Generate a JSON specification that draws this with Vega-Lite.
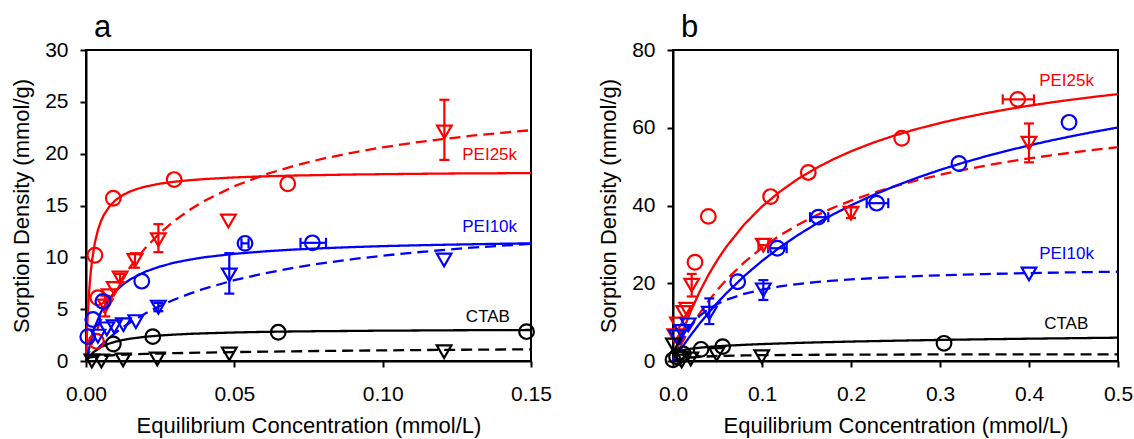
{
"$schema":"https://vega.github.io/schema/vega-lite/v6.json",
"autosize":{"type":"none"},
"padding":{"left":86,"top":50,"right":1048,"bottom":389},
"background":"white",
"spacing":142,
"bounds":"flush",
"config":{
 "font":"Liberation Sans",
 "view":{"stroke":"black","strokeWidth":2},
 "axis":{"grid":false,"domainColor":"black","domainWidth":2,"tickColor":"black","tickWidth":2,"tickSize":6,"labelFont":"Liberation Sans","labelFontSize":21,"labelColor":"black","titleFont":"Liberation Sans","titleFontSize":22,"titleFontWeight":"normal","titleColor":"black","labelFlush":false,"labelOverlap":false,"titleLimit":1000},
 "axisX":{"labelPadding":16,"titlePadding":11},
 "axisY":{"labelPadding":12,"titlePadding":11},
 "point":{"filled":false,"strokeWidth":2.2,"size":215,"opacity":1},
 "title":{"anchor":"start","fontSize":31,"fontWeight":"normal","font":"Liberation Sans","color":"black","dx":8,"frame":"group","baseline":"alphabetic","offset":-5}
},
"datasets":{
"curves":[
{"p":"a","s":"PEI25k","f":"solid","C":0,"q":0},{"p":"a","s":"PEI25k","f":"solid","C":0.0005,"q":3.96},{"p":"a","s":"PEI25k","f":"solid","C":0.001,"q":6.51},{"p":"a","s":"PEI25k","f":"solid","C":0.0015,"q":8.29},{"p":"a","s":"PEI25k","f":"solid","C":0.002,"q":9.61},{"p":"a","s":"PEI25k","f":"solid","C":0.003,"q":11.43},{"p":"a","s":"PEI25k","f":"solid","C":0.004,"q":12.62},{"p":"a","s":"PEI25k","f":"solid","C":0.005,"q":13.46},{"p":"a","s":"PEI25k","f":"solid","C":0.006,"q":14.08},{"p":"a","s":"PEI25k","f":"solid","C":0.008,"q":14.95},{"p":"a","s":"PEI25k","f":"solid","C":0.01,"q":15.53},{"p":"a","s":"PEI25k","f":"solid","C":0.0125,"q":16.02},{"p":"a","s":"PEI25k","f":"solid","C":0.015,"q":16.37},{"p":"a","s":"PEI25k","f":"solid","C":0.0175,"q":16.62},{"p":"a","s":"PEI25k","f":"solid","C":0.02,"q":16.82},{"p":"a","s":"PEI25k","f":"solid","C":0.025,"q":17.11},{"p":"a","s":"PEI25k","f":"solid","C":0.03,"q":17.30},{"p":"a","s":"PEI25k","f":"solid","C":0.035,"q":17.44},{"p":"a","s":"PEI25k","f":"solid","C":0.04,"q":17.55},{"p":"a","s":"PEI25k","f":"solid","C":0.05,"q":17.71},{"p":"a","s":"PEI25k","f":"solid","C":0.06,"q":17.81},{"p":"a","s":"PEI25k","f":"solid","C":0.07,"q":17.89},{"p":"a","s":"PEI25k","f":"solid","C":0.08,"q":17.94},{"p":"a","s":"PEI25k","f":"solid","C":0.09,"q":17.99},{"p":"a","s":"PEI25k","f":"solid","C":0.1,"q":18.02},{"p":"a","s":"PEI25k","f":"solid","C":0.11,"q":18.05},{"p":"a","s":"PEI25k","f":"solid","C":0.12,"q":18.08},{"p":"a","s":"PEI25k","f":"solid","C":0.13,"q":18.10},{"p":"a","s":"PEI25k","f":"solid","C":0.14,"q":18.11},{"p":"a","s":"PEI25k","f":"solid","C":0.15,"q":18.13},
{"p":"a","s":"PEI25k","f":"dashed","C":0,"q":0},{"p":"a","s":"PEI25k","f":"dashed","C":0.0025,"q":2.13},{"p":"a","s":"PEI25k","f":"dashed","C":0.005,"q":3.95},{"p":"a","s":"PEI25k","f":"dashed","C":0.0075,"q":5.51},{"p":"a","s":"PEI25k","f":"dashed","C":0.01,"q":6.87},{"p":"a","s":"PEI25k","f":"dashed","C":0.0125,"q":8.07},{"p":"a","s":"PEI25k","f":"dashed","C":0.015,"q":9.12},{"p":"a","s":"PEI25k","f":"dashed","C":0.02,"q":10.91},{"p":"a","s":"PEI25k","f":"dashed","C":0.025,"q":12.37},{"p":"a","s":"PEI25k","f":"dashed","C":0.03,"q":13.57},{"p":"a","s":"PEI25k","f":"dashed","C":0.035,"q":14.59},{"p":"a","s":"PEI25k","f":"dashed","C":0.04,"q":15.46},{"p":"a","s":"PEI25k","f":"dashed","C":0.05,"q":16.86},{"p":"a","s":"PEI25k","f":"dashed","C":0.06,"q":17.95},{"p":"a","s":"PEI25k","f":"dashed","C":0.07,"q":18.82},{"p":"a","s":"PEI25k","f":"dashed","C":0.08,"q":19.53},{"p":"a","s":"PEI25k","f":"dashed","C":0.09,"q":20.11},{"p":"a","s":"PEI25k","f":"dashed","C":0.1,"q":20.61},{"p":"a","s":"PEI25k","f":"dashed","C":0.11,"q":21.04},{"p":"a","s":"PEI25k","f":"dashed","C":0.12,"q":21.40},{"p":"a","s":"PEI25k","f":"dashed","C":0.13,"q":21.73},{"p":"a","s":"PEI25k","f":"dashed","C":0.14,"q":22.01},{"p":"a","s":"PEI25k","f":"dashed","C":0.15,"q":22.26},
{"p":"a","s":"PEI10k","f":"solid","C":0,"q":0},{"p":"a","s":"PEI10k","f":"solid","C":0.0025,"q":2.93},{"p":"a","s":"PEI10k","f":"solid","C":0.005,"q":4.70},{"p":"a","s":"PEI10k","f":"solid","C":0.0075,"q":5.89},{"p":"a","s":"PEI10k","f":"solid","C":0.01,"q":6.74},{"p":"a","s":"PEI10k","f":"solid","C":0.0125,"q":7.39},{"p":"a","s":"PEI10k","f":"solid","C":0.015,"q":7.89},{"p":"a","s":"PEI10k","f":"solid","C":0.02,"q":8.62},{"p":"a","s":"PEI10k","f":"solid","C":0.025,"q":9.12},{"p":"a","s":"PEI10k","f":"solid","C":0.03,"q":9.50},{"p":"a","s":"PEI10k","f":"solid","C":0.035,"q":9.78},{"p":"a","s":"PEI10k","f":"solid","C":0.04,"q":10.01},{"p":"a","s":"PEI10k","f":"solid","C":0.05,"q":10.34},{"p":"a","s":"PEI10k","f":"solid","C":0.06,"q":10.57},{"p":"a","s":"PEI10k","f":"solid","C":0.07,"q":10.75},{"p":"a","s":"PEI10k","f":"solid","C":0.08,"q":10.88},{"p":"a","s":"PEI10k","f":"solid","C":0.09,"q":10.99},{"p":"a","s":"PEI10k","f":"solid","C":0.1,"q":11.08},{"p":"a","s":"PEI10k","f":"solid","C":0.11,"q":11.15},{"p":"a","s":"PEI10k","f":"solid","C":0.12,"q":11.21},{"p":"a","s":"PEI10k","f":"solid","C":0.13,"q":11.26},{"p":"a","s":"PEI10k","f":"solid","C":0.14,"q":11.31},{"p":"a","s":"PEI10k","f":"solid","C":0.15,"q":11.35},
{"p":"a","s":"PEI10k","f":"dashed","C":0,"q":0},{"p":"a","s":"PEI10k","f":"dashed","C":0.0025,"q":0.79},{"p":"a","s":"PEI10k","f":"dashed","C":0.005,"q":1.50},{"p":"a","s":"PEI10k","f":"dashed","C":0.0075,"q":2.15},{"p":"a","s":"PEI10k","f":"dashed","C":0.01,"q":2.73},{"p":"a","s":"PEI10k","f":"dashed","C":0.0125,"q":3.26},{"p":"a","s":"PEI10k","f":"dashed","C":0.015,"q":3.74},{"p":"a","s":"PEI10k","f":"dashed","C":0.02,"q":4.59},{"p":"a","s":"PEI10k","f":"dashed","C":0.025,"q":5.32},{"p":"a","s":"PEI10k","f":"dashed","C":0.03,"q":5.95},{"p":"a","s":"PEI10k","f":"dashed","C":0.035,"q":6.50},{"p":"a","s":"PEI10k","f":"dashed","C":0.04,"q":6.99},{"p":"a","s":"PEI10k","f":"dashed","C":0.05,"q":7.80},{"p":"a","s":"PEI10k","f":"dashed","C":0.06,"q":8.45},{"p":"a","s":"PEI10k","f":"dashed","C":0.07,"q":8.99},{"p":"a","s":"PEI10k","f":"dashed","C":0.08,"q":9.45},{"p":"a","s":"PEI10k","f":"dashed","C":0.09,"q":9.83},{"p":"a","s":"PEI10k","f":"dashed","C":0.1,"q":10.16},{"p":"a","s":"PEI10k","f":"dashed","C":0.11,"q":10.45},{"p":"a","s":"PEI10k","f":"dashed","C":0.12,"q":10.70},{"p":"a","s":"PEI10k","f":"dashed","C":0.13,"q":10.93},{"p":"a","s":"PEI10k","f":"dashed","C":0.14,"q":11.12},{"p":"a","s":"PEI10k","f":"dashed","C":0.15,"q":11.30},
{"p":"a","s":"CTAB","f":"solid","C":0,"q":0},{"p":"a","s":"CTAB","f":"solid","C":0.0025,"q":0.85},{"p":"a","s":"CTAB","f":"solid","C":0.005,"q":1.34},{"p":"a","s":"CTAB","f":"solid","C":0.0075,"q":1.65},{"p":"a","s":"CTAB","f":"solid","C":0.01,"q":1.87},{"p":"a","s":"CTAB","f":"solid","C":0.0125,"q":2.03},{"p":"a","s":"CTAB","f":"solid","C":0.015,"q":2.16},{"p":"a","s":"CTAB","f":"solid","C":0.02,"q":2.34},{"p":"a","s":"CTAB","f":"solid","C":0.025,"q":2.46},{"p":"a","s":"CTAB","f":"solid","C":0.03,"q":2.55},{"p":"a","s":"CTAB","f":"solid","C":0.035,"q":2.62},{"p":"a","s":"CTAB","f":"solid","C":0.04,"q":2.67},{"p":"a","s":"CTAB","f":"solid","C":0.05,"q":2.75},{"p":"a","s":"CTAB","f":"solid","C":0.06,"q":2.81},{"p":"a","s":"CTAB","f":"solid","C":0.07,"q":2.85},{"p":"a","s":"CTAB","f":"solid","C":0.08,"q":2.88},{"p":"a","s":"CTAB","f":"solid","C":0.09,"q":2.90},{"p":"a","s":"CTAB","f":"solid","C":0.1,"q":2.93},{"p":"a","s":"CTAB","f":"solid","C":0.11,"q":2.94},{"p":"a","s":"CTAB","f":"solid","C":0.12,"q":2.96},{"p":"a","s":"CTAB","f":"solid","C":0.13,"q":2.97},{"p":"a","s":"CTAB","f":"solid","C":0.14,"q":2.98},{"p":"a","s":"CTAB","f":"solid","C":0.15,"q":2.99},
{"p":"a","s":"CTAB","f":"dashed","C":0.0005,"q":0.27},{"p":"a","s":"CTAB","f":"dashed","C":0.001,"q":0.32},{"p":"a","s":"CTAB","f":"dashed","C":0.0025,"q":0.41},{"p":"a","s":"CTAB","f":"dashed","C":0.005,"q":0.48},{"p":"a","s":"CTAB","f":"dashed","C":0.0075,"q":0.53},{"p":"a","s":"CTAB","f":"dashed","C":0.01,"q":0.57},{"p":"a","s":"CTAB","f":"dashed","C":0.015,"q":0.64},{"p":"a","s":"CTAB","f":"dashed","C":0.02,"q":0.68},{"p":"a","s":"CTAB","f":"dashed","C":0.025,"q":0.72},{"p":"a","s":"CTAB","f":"dashed","C":0.03,"q":0.76},{"p":"a","s":"CTAB","f":"dashed","C":0.04,"q":0.81},{"p":"a","s":"CTAB","f":"dashed","C":0.05,"q":0.86},{"p":"a","s":"CTAB","f":"dashed","C":0.06,"q":0.90},{"p":"a","s":"CTAB","f":"dashed","C":0.07,"q":0.93},{"p":"a","s":"CTAB","f":"dashed","C":0.08,"q":0.97},{"p":"a","s":"CTAB","f":"dashed","C":0.09,"q":1.00},{"p":"a","s":"CTAB","f":"dashed","C":0.1,"q":1.02},{"p":"a","s":"CTAB","f":"dashed","C":0.11,"q":1.05},{"p":"a","s":"CTAB","f":"dashed","C":0.12,"q":1.07},{"p":"a","s":"CTAB","f":"dashed","C":0.13,"q":1.09},{"p":"a","s":"CTAB","f":"dashed","C":0.14,"q":1.11},{"p":"a","s":"CTAB","f":"dashed","C":0.15,"q":1.13},
{"p":"b","s":"PEI25k","f":"solid","C":0,"q":0},{"p":"b","s":"PEI25k","f":"solid","C":0.005,"q":3.61},{"p":"b","s":"PEI25k","f":"solid","C":0.01,"q":6.93},{"p":"b","s":"PEI25k","f":"solid","C":0.015,"q":9.98},{"p":"b","s":"PEI25k","f":"solid","C":0.02,"q":12.80},{"p":"b","s":"PEI25k","f":"solid","C":0.03,"q":17.84},{"p":"b","s":"PEI25k","f":"solid","C":0.04,"q":22.21},{"p":"b","s":"PEI25k","f":"solid","C":0.05,"q":26.04},{"p":"b","s":"PEI25k","f":"solid","C":0.06,"q":29.42},{"p":"b","s":"PEI25k","f":"solid","C":0.08,"q":35.12},{"p":"b","s":"PEI25k","f":"solid","C":0.1,"q":39.74},{"p":"b","s":"PEI25k","f":"solid","C":0.12,"q":43.56},{"p":"b","s":"PEI25k","f":"solid","C":0.14,"q":46.78},{"p":"b","s":"PEI25k","f":"solid","C":0.16,"q":49.52},{"p":"b","s":"PEI25k","f":"solid","C":0.18,"q":51.88},{"p":"b","s":"PEI25k","f":"solid","C":0.2,"q":53.94},{"p":"b","s":"PEI25k","f":"solid","C":0.225,"q":56.17},{"p":"b","s":"PEI25k","f":"solid","C":0.25,"q":58.08},{"p":"b","s":"PEI25k","f":"solid","C":0.275,"q":59.76},{"p":"b","s":"PEI25k","f":"solid","C":0.3,"q":61.22},{"p":"b","s":"PEI25k","f":"solid","C":0.325,"q":62.52},{"p":"b","s":"PEI25k","f":"solid","C":0.35,"q":63.68},{"p":"b","s":"PEI25k","f":"solid","C":0.375,"q":64.72},{"p":"b","s":"PEI25k","f":"solid","C":0.4,"q":65.66},{"p":"b","s":"PEI25k","f":"solid","C":0.425,"q":66.51},{"p":"b","s":"PEI25k","f":"solid","C":0.45,"q":67.29},{"p":"b","s":"PEI25k","f":"solid","C":0.475,"q":68.00},{"p":"b","s":"PEI25k","f":"solid","C":0.5,"q":68.65},
{"p":"b","s":"PEI25k","f":"dashed","C":0,"q":0},{"p":"b","s":"PEI25k","f":"dashed","C":0.005,"q":2.39},{"p":"b","s":"PEI25k","f":"dashed","C":0.01,"q":4.63},{"p":"b","s":"PEI25k","f":"dashed","C":0.015,"q":6.72},{"p":"b","s":"PEI25k","f":"dashed","C":0.02,"q":8.68},{"p":"b","s":"PEI25k","f":"dashed","C":0.03,"q":12.27},{"p":"b","s":"PEI25k","f":"dashed","C":0.04,"q":15.47},{"p":"b","s":"PEI25k","f":"dashed","C":0.05,"q":18.33},{"p":"b","s":"PEI25k","f":"dashed","C":0.06,"q":20.91},{"p":"b","s":"PEI25k","f":"dashed","C":0.08,"q":25.38},{"p":"b","s":"PEI25k","f":"dashed","C":0.1,"q":29.11},{"p":"b","s":"PEI25k","f":"dashed","C":0.12,"q":32.28},{"p":"b","s":"PEI25k","f":"dashed","C":0.14,"q":34.99},{"p":"b","s":"PEI25k","f":"dashed","C":0.16,"q":37.35},{"p":"b","s":"PEI25k","f":"dashed","C":0.18,"q":39.42},{"p":"b","s":"PEI25k","f":"dashed","C":0.2,"q":41.24},{"p":"b","s":"PEI25k","f":"dashed","C":0.225,"q":43.25},{"p":"b","s":"PEI25k","f":"dashed","C":0.25,"q":44.99},{"p":"b","s":"PEI25k","f":"dashed","C":0.275,"q":46.53},{"p":"b","s":"PEI25k","f":"dashed","C":0.3,"q":47.89},{"p":"b","s":"PEI25k","f":"dashed","C":0.325,"q":49.11},{"p":"b","s":"PEI25k","f":"dashed","C":0.35,"q":50.21},{"p":"b","s":"PEI25k","f":"dashed","C":0.375,"q":51.20},{"p":"b","s":"PEI25k","f":"dashed","C":0.4,"q":52.10},{"p":"b","s":"PEI25k","f":"dashed","C":0.425,"q":52.91},{"p":"b","s":"PEI25k","f":"dashed","C":0.45,"q":53.66},{"p":"b","s":"PEI25k","f":"dashed","C":0.475,"q":54.35},{"p":"b","s":"PEI25k","f":"dashed","C":0.5,"q":55.00},
{"p":"b","s":"PEI10k","f":"solid","C":0.003,"q":1.07},{"p":"b","s":"PEI10k","f":"solid","C":0.005,"q":1.77},{"p":"b","s":"PEI10k","f":"solid","C":0.01,"q":3.47},{"p":"b","s":"PEI10k","f":"solid","C":0.02,"q":6.67},{"p":"b","s":"PEI10k","f":"solid","C":0.03,"q":9.65},{"p":"b","s":"PEI10k","f":"solid","C":0.04,"q":12.43},{"p":"b","s":"PEI10k","f":"solid","C":0.05,"q":15.02},{"p":"b","s":"PEI10k","f":"solid","C":0.06,"q":17.44},{"p":"b","s":"PEI10k","f":"solid","C":0.08,"q":21.84},{"p":"b","s":"PEI10k","f":"solid","C":0.1,"q":25.74},{"p":"b","s":"PEI10k","f":"solid","C":0.12,"q":29.22},{"p":"b","s":"PEI10k","f":"solid","C":0.14,"q":32.34},{"p":"b","s":"PEI10k","f":"solid","C":0.16,"q":35.16},{"p":"b","s":"PEI10k","f":"solid","C":0.18,"q":37.72},{"p":"b","s":"PEI10k","f":"solid","C":0.2,"q":40.04},{"p":"b","s":"PEI10k","f":"solid","C":0.225,"q":42.68},{"p":"b","s":"PEI10k","f":"solid","C":0.25,"q":45.05},{"p":"b","s":"PEI10k","f":"solid","C":0.275,"q":47.19},{"p":"b","s":"PEI10k","f":"solid","C":0.3,"q":49.15},{"p":"b","s":"PEI10k","f":"solid","C":0.325,"q":50.93},{"p":"b","s":"PEI10k","f":"solid","C":0.35,"q":52.56},{"p":"b","s":"PEI10k","f":"solid","C":0.375,"q":54.06},{"p":"b","s":"PEI10k","f":"solid","C":0.4,"q":55.45},{"p":"b","s":"PEI10k","f":"solid","C":0.425,"q":56.73},{"p":"b","s":"PEI10k","f":"solid","C":0.45,"q":57.92},{"p":"b","s":"PEI10k","f":"solid","C":0.475,"q":59.03},{"p":"b","s":"PEI10k","f":"solid","C":0.5,"q":60.07},
{"p":"b","s":"PEI10k","f":"dashed","C":0,"q":0},{"p":"b","s":"PEI10k","f":"dashed","C":0.005,"q":3.20},{"p":"b","s":"PEI10k","f":"dashed","C":0.01,"q":5.65},{"p":"b","s":"PEI10k","f":"dashed","C":0.015,"q":7.60},{"p":"b","s":"PEI10k","f":"dashed","C":0.02,"q":9.19},{"p":"b","s":"PEI10k","f":"dashed","C":0.03,"q":11.61},{"p":"b","s":"PEI10k","f":"dashed","C":0.04,"q":13.36},{"p":"b","s":"PEI10k","f":"dashed","C":0.05,"q":14.70},{"p":"b","s":"PEI10k","f":"dashed","C":0.06,"q":15.75},{"p":"b","s":"PEI10k","f":"dashed","C":0.08,"q":17.29},{"p":"b","s":"PEI10k","f":"dashed","C":0.1,"q":18.38},{"p":"b","s":"PEI10k","f":"dashed","C":0.12,"q":19.17},{"p":"b","s":"PEI10k","f":"dashed","C":0.14,"q":19.79},{"p":"b","s":"PEI10k","f":"dashed","C":0.16,"q":20.28},{"p":"b","s":"PEI10k","f":"dashed","C":0.18,"q":20.67},{"p":"b","s":"PEI10k","f":"dashed","C":0.2,"q":21.00},{"p":"b","s":"PEI10k","f":"dashed","C":0.25,"q":21.62},{"p":"b","s":"PEI10k","f":"dashed","C":0.3,"q":22.05},{"p":"b","s":"PEI10k","f":"dashed","C":0.35,"q":22.37},{"p":"b","s":"PEI10k","f":"dashed","C":0.4,"q":22.62},{"p":"b","s":"PEI10k","f":"dashed","C":0.45,"q":22.81},{"p":"b","s":"PEI10k","f":"dashed","C":0.5,"q":22.97},
{"p":"b","s":"CTAB","f":"solid","C":0.004,"q":2.28},{"p":"b","s":"CTAB","f":"solid","C":0.01,"q":2.74},{"p":"b","s":"CTAB","f":"solid","C":0.02,"q":3.15},{"p":"b","s":"CTAB","f":"solid","C":0.03,"q":3.42},{"p":"b","s":"CTAB","f":"solid","C":0.04,"q":3.62},{"p":"b","s":"CTAB","f":"solid","C":0.05,"q":3.79},{"p":"b","s":"CTAB","f":"solid","C":0.06,"q":3.93},{"p":"b","s":"CTAB","f":"solid","C":0.08,"q":4.16},{"p":"b","s":"CTAB","f":"solid","C":0.1,"q":4.35},{"p":"b","s":"CTAB","f":"solid","C":0.12,"q":4.51},{"p":"b","s":"CTAB","f":"solid","C":0.15,"q":4.72},{"p":"b","s":"CTAB","f":"solid","C":0.2,"q":5.00},{"p":"b","s":"CTAB","f":"solid","C":0.25,"q":5.22},{"p":"b","s":"CTAB","f":"solid","C":0.3,"q":5.42},{"p":"b","s":"CTAB","f":"solid","C":0.35,"q":5.59},{"p":"b","s":"CTAB","f":"solid","C":0.4,"q":5.74},{"p":"b","s":"CTAB","f":"solid","C":0.45,"q":5.87},{"p":"b","s":"CTAB","f":"solid","C":0.5,"q":6.00},
{"p":"b","s":"CTAB","f":"dashed","C":0,"q":0},{"p":"b","s":"CTAB","f":"dashed","C":0.005,"q":0.36},{"p":"b","s":"CTAB","f":"dashed","C":0.01,"q":0.60},{"p":"b","s":"CTAB","f":"dashed","C":0.02,"q":0.90},{"p":"b","s":"CTAB","f":"dashed","C":0.03,"q":1.08},{"p":"b","s":"CTAB","f":"dashed","C":0.05,"q":1.29},{"p":"b","s":"CTAB","f":"dashed","C":0.08,"q":1.44},{"p":"b","s":"CTAB","f":"dashed","C":0.1,"q":1.50},{"p":"b","s":"CTAB","f":"dashed","C":0.15,"q":1.59},{"p":"b","s":"CTAB","f":"dashed","C":0.2,"q":1.64},{"p":"b","s":"CTAB","f":"dashed","C":0.3,"q":1.69},{"p":"b","s":"CTAB","f":"dashed","C":0.4,"q":1.71},{"p":"b","s":"CTAB","f":"dashed","C":0.5,"q":1.73}
],
"points":[
{"p":"a","s":"PEI25k","m":"circle","C":0.0035,"q":1.9},{"p":"a","s":"PEI25k","m":"circle","C":0.004,"q":6.1},{"p":"a","s":"PEI25k","m":"circle","C":0.003,"q":10.2},{"p":"a","s":"PEI25k","m":"circle","C":0.0092,"q":15.7},{"p":"a","s":"PEI25k","m":"circle","C":0.0297,"q":17.5},{"p":"a","s":"PEI25k","m":"circle","C":0.068,"q":17.1},
{"p":"a","s":"PEI25k","m":"triangle","C":0.0065,"q":5.3,"lo":4.3,"hi":6.3},{"p":"a","s":"PEI25k","m":"triangle","C":0.0078,"q":6.3},{"p":"a","s":"PEI25k","m":"triangle","C":0.0095,"q":7.0},{"p":"a","s":"PEI25k","m":"triangle","C":0.0115,"q":8.0,"lo":7.6,"hi":8.4},{"p":"a","s":"PEI25k","m":"triangle","C":0.0165,"q":9.7,"lo":9.0,"hi":10.4},{"p":"a","s":"PEI25k","m":"triangle","C":0.0244,"q":11.7,"lo":10.5,"hi":13.2},{"p":"a","s":"PEI25k","m":"triangle","C":0.048,"q":13.5},{"p":"a","s":"PEI25k","m":"triangle","C":0.1208,"q":22.1,"lo":19.4,"hi":25.2},
{"p":"a","s":"PEI10k","m":"circle","C":0.0006,"q":2.35},{"p":"a","s":"PEI10k","m":"circle","C":0.0023,"q":4.0},{"p":"a","s":"PEI10k","m":"circle","C":0.0057,"q":5.75},{"p":"a","s":"PEI10k","m":"circle","C":0.0188,"q":7.7},{"p":"a","s":"PEI10k","m":"circle","C":0.0536,"q":11.35,"xlo":0.0524,"xhi":0.0548},{"p":"a","s":"PEI10k","m":"circle","C":0.0763,"q":11.4,"xlo":0.0723,"xhi":0.0809},
{"p":"a","s":"PEI10k","m":"triangle","C":0.004,"q":2.4},{"p":"a","s":"PEI10k","m":"triangle","C":0.007,"q":3.1},{"p":"a","s":"PEI10k","m":"triangle","C":0.0095,"q":3.3},{"p":"a","s":"PEI10k","m":"triangle","C":0.0126,"q":3.5},{"p":"a","s":"PEI10k","m":"triangle","C":0.0168,"q":3.8},{"p":"a","s":"PEI10k","m":"triangle","C":0.0244,"q":5.2,"lo":4.8,"hi":5.6},{"p":"a","s":"PEI10k","m":"triangle","C":0.0483,"q":8.3,"lo":6.5,"hi":10.4},{"p":"a","s":"PEI10k","m":"triangle","C":0.1207,"q":9.75},
{"p":"a","s":"CTAB","m":"circle","C":0.0092,"q":1.64},{"p":"a","s":"CTAB","m":"circle","C":0.0225,"q":2.35},{"p":"a","s":"CTAB","m":"circle","C":0.0648,"q":2.77},{"p":"a","s":"CTAB","m":"circle","C":0.1485,"q":2.83},
{"p":"a","s":"CTAB","m":"triangle","C":0.002,"q":0.0},{"p":"a","s":"CTAB","m":"triangle","C":0.0052,"q":0.0},{"p":"a","s":"CTAB","m":"triangle","C":0.0125,"q":0.1},{"p":"a","s":"CTAB","m":"triangle","C":0.024,"q":0.2},{"p":"a","s":"CTAB","m":"triangle","C":0.0483,"q":0.68},{"p":"a","s":"CTAB","m":"triangle","C":0.1207,"q":0.9},
{"p":"b","s":"PEI25k","m":"circle","C":0.0247,"q":25.4},{"p":"b","s":"PEI25k","m":"circle","C":0.0397,"q":37.2},{"p":"b","s":"PEI25k","m":"circle","C":0.1097,"q":42.3},{"p":"b","s":"PEI25k","m":"circle","C":0.152,"q":48.5},{"p":"b","s":"PEI25k","m":"circle","C":0.257,"q":57.3},{"p":"b","s":"PEI25k","m":"circle","C":0.3873,"q":67.3,"xlo":0.3705,"xhi":0.4056},
{"p":"b","s":"PEI25k","m":"triangle","C":0.002,"q":6.5},{"p":"b","s":"PEI25k","m":"triangle","C":0.005,"q":9.5},{"p":"b","s":"PEI25k","m":"triangle","C":0.012,"q":12.5},{"p":"b","s":"PEI25k","m":"triangle","C":0.0155,"q":13.3},{"p":"b","s":"PEI25k","m":"triangle","C":0.021,"q":19.5,"lo":16.6,"hi":22.4},{"p":"b","s":"PEI25k","m":"triangle","C":0.1015,"q":29.8,"xlo":0.096,"xhi":0.107},{"p":"b","s":"PEI25k","m":"triangle","C":0.2,"q":38,"lo":36.8,"hi":39.5},{"p":"b","s":"PEI25k","m":"triangle","C":0.4,"q":56,"lo":51.1,"hi":61.1},
{"p":"b","s":"PEI10k","m":"circle","C":0.0727,"q":20.4},{"p":"b","s":"PEI10k","m":"circle","C":0.1172,"q":29.0,"xlo":0.107,"xhi":0.1277},{"p":"b","s":"PEI10k","m":"circle","C":0.1633,"q":37.0,"xlo":0.154,"xhi":0.1745},{"p":"b","s":"PEI10k","m":"circle","C":0.2288,"q":40.6,"xlo":0.2176,"xhi":0.2419},{"p":"b","s":"PEI10k","m":"circle","C":0.3213,"q":50.8},{"p":"b","s":"PEI10k","m":"circle","C":0.445,"q":61.4},
{"p":"b","s":"PEI10k","m":"triangle","C":0.004,"q":6.25},{"p":"b","s":"PEI10k","m":"triangle","C":0.0098,"q":7.6},{"p":"b","s":"PEI10k","m":"triangle","C":0.017,"q":9.3},{"p":"b","s":"PEI10k","m":"triangle","C":0.0408,"q":12.3,"lo":9.5,"hi":16.1},{"p":"b","s":"PEI10k","m":"triangle","C":0.1015,"q":18.3,"lo":15.7,"hi":20.8},{"p":"b","s":"PEI10k","m":"triangle","C":0.4,"q":22.4},
{"p":"b","s":"CTAB","m":"circle","C":0.0,"q":0.3},{"p":"b","s":"CTAB","m":"circle","C":0.004,"q":1.1},{"p":"b","s":"CTAB","m":"circle","C":0.0116,"q":1.8},{"p":"b","s":"CTAB","m":"circle","C":0.0315,"q":3.0},{"p":"b","s":"CTAB","m":"circle","C":0.0558,"q":3.7},{"p":"b","s":"CTAB","m":"circle","C":0.3045,"q":4.55},
{"p":"b","s":"CTAB","m":"triangle","C":0.0005,"q":4.1},{"p":"b","s":"CTAB","m":"triangle","C":0.008,"q":0.7},{"p":"b","s":"CTAB","m":"triangle","C":0.0098,"q":0.0},{"p":"b","s":"CTAB","m":"triangle","C":0.02,"q":0.5},{"p":"b","s":"CTAB","m":"triangle","C":0.049,"q":1.7},{"p":"b","s":"CTAB","m":"triangle","C":0.0997,"q":1.1}
],
"labels":[
{"p":"a","s":"PEI25k","label":"PEI25k","C":0.1453,"q":19.9},{"p":"a","s":"PEI10k","label":"PEI10k","C":0.1453,"q":12.95},{"p":"a","s":"CTAB","label":"CTAB","C":0.1429,"q":4.27},
{"p":"b","s":"PEI25k","label":"PEI25k","C":0.473,"q":72},{"p":"b","s":"PEI10k","label":"PEI10k","C":0.473,"q":27.4},{"p":"b","s":"CTAB","label":"CTAB","C":0.4666,"q":9.5}
]
},
"hconcat":[
{
 "width":445,"height":311,
 "title":{"text":"a"},
 "encoding":{
  "x":{"field":"C","type":"quantitative","scale":{"domain":[0,0.15],"nice":false,"zero":false},"axis":{"values":[0,0.05,0.1,0.15],"format":".2f","title":"Equilibrium Concentration (mmol/L)"}},
  "y":{"field":"q","type":"quantitative","scale":{"domain":[0,30],"nice":false,"zero":false},"axis":{"values":[0,5,10,15,20,25,30],"title":"Sorption Density (mmol/g)"}},
  "color":{"field":"s","type":"nominal","scale":{"domain":["PEI25k","PEI10k","CTAB"],"range":["#ff0000","#0000ff","#000000"]},"legend":null}
 },
 "layer":[
  {"data":{"name":"curves"},"transform":[{"filter":{"field":"p","equal":"a"}}],"mark":{"type":"line","strokeWidth":2.3},
   "encoding":{"strokeDash":{"field":"f","type":"nominal","scale":{"domain":["solid","dashed"],"range":[[1,0],[11,6]]},"legend":null},"detail":{"field":"s"}}},
  {"data":{"name":"points"},"transform":[{"filter":{"field":"p","equal":"a"}},{"filter":{"field":"lo","valid":true}}],"mark":{"type":"rule","strokeWidth":2.2},
   "encoding":{"y":{"field":"lo","type":"quantitative","title":"Sorption Density (mmol/g)"},"y2":{"field":"hi"}}},
  {"data":{"name":"points"},"transform":[{"filter":{"field":"p","equal":"a"}},{"filter":{"field":"lo","valid":true}}],"mark":{"type":"tick","orient":"horizontal","size":10,"thickness":2.2,"opacity":1},
   "encoding":{"y":{"field":"lo","type":"quantitative","title":"Sorption Density (mmol/g)"}}},
  {"data":{"name":"points"},"transform":[{"filter":{"field":"p","equal":"a"}},{"filter":{"field":"hi","valid":true}}],"mark":{"type":"tick","orient":"horizontal","size":10,"thickness":2.2,"opacity":1},
   "encoding":{"y":{"field":"hi","type":"quantitative","title":"Sorption Density (mmol/g)"}}},
  {"data":{"name":"points"},"transform":[{"filter":{"field":"p","equal":"a"}},{"filter":{"field":"xlo","valid":true}}],"mark":{"type":"rule","strokeWidth":2.2},
   "encoding":{"x":{"field":"xlo","type":"quantitative","title":"Equilibrium Concentration (mmol/L)"},"x2":{"field":"xhi"}}},
  {"data":{"name":"points"},"transform":[{"filter":{"field":"p","equal":"a"}},{"filter":{"field":"xlo","valid":true}}],"mark":{"type":"tick","orient":"vertical","size":10,"thickness":2.2,"opacity":1},
   "encoding":{"x":{"field":"xlo","type":"quantitative","title":"Equilibrium Concentration (mmol/L)"}}},
  {"data":{"name":"points"},"transform":[{"filter":{"field":"p","equal":"a"}},{"filter":{"field":"xhi","valid":true}}],"mark":{"type":"tick","orient":"vertical","size":10,"thickness":2.2,"opacity":1},
   "encoding":{"x":{"field":"xhi","type":"quantitative","title":"Equilibrium Concentration (mmol/L)"}}},
  {"data":{"name":"points"},"transform":[{"filter":{"field":"p","equal":"a"}}],"mark":{"type":"point","filled":false,"strokeWidth":2.2,"size":215,"opacity":1},
   "encoding":{"shape":{"field":"m","type":"nominal","scale":{"domain":["circle","triangle"],"range":["circle","triangle-down"]},"legend":null}}},
  {"data":{"name":"labels"},"transform":[{"filter":{"field":"p","equal":"a"}}],"mark":{"type":"text","align":"right","baseline":"middle","fontSize":17,"font":"Liberation Sans"},
   "encoding":{"text":{"field":"label"}}}
 ]
},
{
 "width":445,"height":311,
 "title":{"text":"b"},
 "encoding":{
  "x":{"field":"C","type":"quantitative","scale":{"domain":[0,0.5],"nice":false,"zero":false},"axis":{"values":[0,0.1,0.2,0.3,0.4,0.5],"format":".1f","title":"Equilibrium Concentration (mmol/L)"}},
  "y":{"field":"q","type":"quantitative","scale":{"domain":[0,80],"nice":false,"zero":false},"axis":{"values":[0,20,40,60,80],"title":"Sorption Density (mmol/g)"}},
  "color":{"field":"s","type":"nominal","scale":{"domain":["PEI25k","PEI10k","CTAB"],"range":["#ff0000","#0000ff","#000000"]},"legend":null}
 },
 "layer":[
  {"data":{"name":"curves"},"transform":[{"filter":{"field":"p","equal":"b"}}],"mark":{"type":"line","strokeWidth":2.3},
   "encoding":{"strokeDash":{"field":"f","type":"nominal","scale":{"domain":["solid","dashed"],"range":[[1,0],[11,6]]},"legend":null},"detail":{"field":"s"}}},
  {"data":{"name":"points"},"transform":[{"filter":{"field":"p","equal":"b"}},{"filter":{"field":"lo","valid":true}}],"mark":{"type":"rule","strokeWidth":2.2},
   "encoding":{"y":{"field":"lo","type":"quantitative","title":"Sorption Density (mmol/g)"},"y2":{"field":"hi"}}},
  {"data":{"name":"points"},"transform":[{"filter":{"field":"p","equal":"b"}},{"filter":{"field":"lo","valid":true}}],"mark":{"type":"tick","orient":"horizontal","size":10,"thickness":2.2,"opacity":1},
   "encoding":{"y":{"field":"lo","type":"quantitative","title":"Sorption Density (mmol/g)"}}},
  {"data":{"name":"points"},"transform":[{"filter":{"field":"p","equal":"b"}},{"filter":{"field":"hi","valid":true}}],"mark":{"type":"tick","orient":"horizontal","size":10,"thickness":2.2,"opacity":1},
   "encoding":{"y":{"field":"hi","type":"quantitative","title":"Sorption Density (mmol/g)"}}},
  {"data":{"name":"points"},"transform":[{"filter":{"field":"p","equal":"b"}},{"filter":{"field":"xlo","valid":true}}],"mark":{"type":"rule","strokeWidth":2.2},
   "encoding":{"x":{"field":"xlo","type":"quantitative","title":"Equilibrium Concentration (mmol/L)"},"x2":{"field":"xhi"}}},
  {"data":{"name":"points"},"transform":[{"filter":{"field":"p","equal":"b"}},{"filter":{"field":"xlo","valid":true}}],"mark":{"type":"tick","orient":"vertical","size":10,"thickness":2.2,"opacity":1},
   "encoding":{"x":{"field":"xlo","type":"quantitative","title":"Equilibrium Concentration (mmol/L)"}}},
  {"data":{"name":"points"},"transform":[{"filter":{"field":"p","equal":"b"}},{"filter":{"field":"xhi","valid":true}}],"mark":{"type":"tick","orient":"vertical","size":10,"thickness":2.2,"opacity":1},
   "encoding":{"x":{"field":"xhi","type":"quantitative","title":"Equilibrium Concentration (mmol/L)"}}},
  {"data":{"name":"points"},"transform":[{"filter":{"field":"p","equal":"b"}}],"mark":{"type":"point","filled":false,"strokeWidth":2.2,"size":215,"opacity":1},
   "encoding":{"shape":{"field":"m","type":"nominal","scale":{"domain":["circle","triangle"],"range":["circle","triangle-down"]},"legend":null}}},
  {"data":{"name":"labels"},"transform":[{"filter":{"field":"p","equal":"b"}}],"mark":{"type":"text","align":"right","baseline":"middle","fontSize":17,"font":"Liberation Sans"},
   "encoding":{"text":{"field":"label"}}}
 ]
}
]
}
